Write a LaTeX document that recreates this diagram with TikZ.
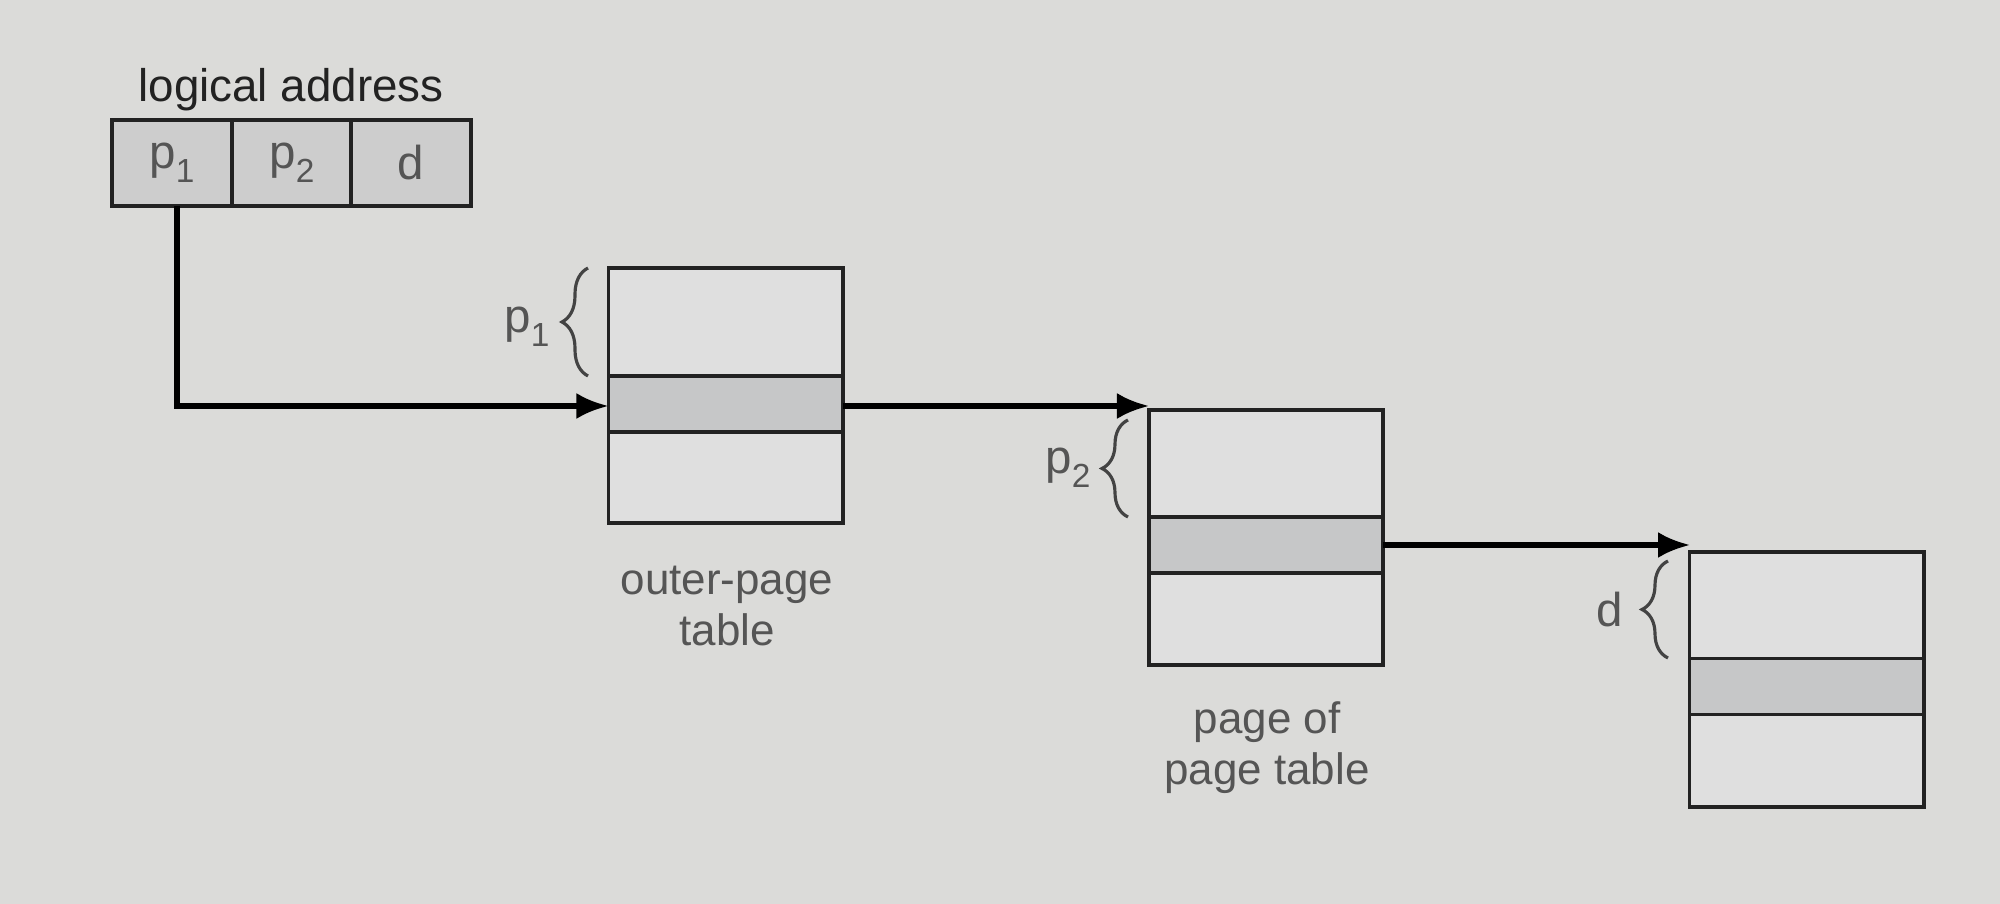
\documentclass[tikz,border=0pt]{standalone}
\usepackage{fontspec}
\setmainfont{Liberation Sans}
\usetikzlibrary{arrows.meta,decorations.pathreplacing}
\definecolor{bgc}{HTML}{DBDBD9}
\definecolor{cellc}{HTML}{DFDFDF}
\definecolor{rowc}{HTML}{C6C7C8}
\definecolor{addrc}{HTML}{CDCDCD}
\definecolor{linec}{HTML}{222222}
\definecolor{labc}{HTML}{555555}
\newcommand\mysub[1]{\raisebox{-0.55ex}{\fontsize{9.5}{10}\selectfont #1}}
\begin{document}
\begin{tikzpicture}[x=0.01cm,y=-0.01cm,
  tbl/.style={draw=linec,line width=1.1pt,fill=cellc,minimum width=2.34cm,minimum height=2.55cm,inner sep=0pt,outer sep=0pt},
  tblrow/.style={draw=linec,line width=1.1pt,fill=rowc,minimum width=2.34cm,minimum height=0.56cm,inner sep=0pt,outer sep=0pt},
  addrcell/.style={draw=linec,line width=1.1pt,fill=addrc,minimum width=1.20cm,minimum height=0.86cm,inner sep=0pt,outer sep=0pt,text=labc,font=\fontsize{13.5}{15}\selectfont},
  conn/.style={draw=black,line width=1.5pt,-{Latex[length=0.32cm,width=0.26cm]}},
  brc/.style={draw=linec!85,line width=0.9pt,decorate,decoration={brace,amplitude=0.26cm}},
  lab/.style={text=labc,font=\fontsize{12.5}{14.5}\selectfont,align=center,inner sep=0pt},
  blab/.style={text=labc,font=\fontsize{13.5}{15}\selectfont,inner sep=0pt}]
\fill[bgc] (0,0) rectangle (2000,904);
\useasboundingbox (0,0) rectangle (2000,904);
% logical address
\node[text=linec,font=\fontsize{13}{15}\selectfont,inner sep=0pt] (title) at (291,90) {logical address};
\node[addrcell] (ap1) at (172,163) {p\mysub{1}};
\node[addrcell] (ap2) at (292,163) {p\mysub{2}};
\node[addrcell] (ad) at (411,163) {d};
% tables
\node[tbl] (t1) at (725.5,395.5) {};
\node[tblrow] (r1) at (725.5,404) {};
\node[tbl] (t2) at (1266,537.5) {};
\node[tblrow] (r2) at (1266,545) {};
\node[tbl] (t3) at (1806.5,679.5) {};
\node[tblrow] (r3) at (1806.5,686.5) {};
% braces
\coordinate (b1a) at (588,376);
\coordinate (b1b) at (588,268);
\coordinate (b2a) at (1128,517);
\coordinate (b2b) at (1128,420);
\coordinate (b3a) at (1668,658);
\coordinate (b3b) at (1668,561);
\draw[brc] (b1a) -- (b1b);
\draw[brc] (b2a) -- (b2b);
\draw[brc] (b3a) -- (b3b);
\node[blab] (lp1) at (527,327) {p\mysub{1}};
\node[blab] (lp2) at (1068,468) {p\mysub{2}};
\node[blab] (ld) at (1610,610) {d};
% labels
\node[lab] (l1) at (727,606) {outer-page\\table};
\node[lab] (l2) at (1267,748) {page of\\page table};
% connectors
\coordinate (c1) at (177,406);
\coordinate (e2) at (1149,406);
\coordinate (e3) at (1690,545);
\draw[conn] (ap1.south -| c1) -- (c1) -- (t1.west |- c1);
\draw[conn] (r1.east |- e2) -- (e2);
\draw[conn] (r2.east) -- (e3);
\end{tikzpicture}
\end{document}
